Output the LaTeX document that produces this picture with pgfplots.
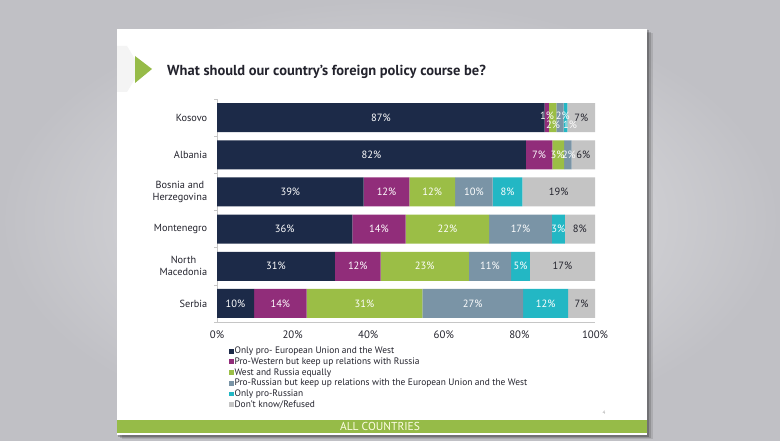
\documentclass[border=0pt]{standalone}
\usepackage{pgfplots}
\usepackage{pgfplotstable}
\pgfplotsset{compat=1.18}
\usepackage{fontspec}
\setmainfont{PT Sans}
\definecolor{cnavy}{RGB}{28,42,72}
\definecolor{cpurple}{RGB}{145,45,122}
\definecolor{cgreen}{RGB}{155,190,70}
\definecolor{cgblue}{RGB}{122,148,166}
\definecolor{cteal}{RGB}{35,183,196}
\definecolor{clgray}{RGB}{196,196,196}
\definecolor{ctxt}{RGB}{35,35,45}
\definecolor{cfoot}{RGB}{150,187,72}
\definecolor{bgin}{RGB}{232,232,234}
\definecolor{bgout}{RGB}{192,192,197}
\newcommand{\pc}{\%}

% columns: y (row), w (segment width), c (label x), cy (label y), lbl
\pgfplotstableread{
y w c cy lbl
5 86.7 43.35 5 {87\pc}
4 81.7 40.85 4 {82\pc}
3 38.8 19.4 3 {39\pc}
2 35.8 17.9 2 {36\pc}
1 31.2 15.6 1 {31\pc}
0 9.8 4.9 0 {10\pc}
}\tA
\pgfplotstableread{
y w c cy lbl
5 1.1 87.3 5.05 {1\pc}
4 7.0 85.2 4 {7\pc}
3 12.1 44.85 3 {12\pc}
2 14.1 42.85 2 {14\pc}
1 12.1 37.25 1 {12\pc}
0 13.9 16.75 0 {14\pc}
}\tB
\pgfplotstableread{
y w c cy lbl
5 2.0 88.9 4.8 {2\pc}
4 3.1 90.1 4 {3\pc}
3 12.1 56.95 3 {12\pc}
2 22.1 60.95 2 {22\pc}
1 23.3 54.95 1 {23\pc}
0 30.6 39.0 0 {31\pc}
}\tC
\pgfplotstableread{
y w c cy lbl
5 1.9 91.5 5.05 {2\pc}
4 2.0 93.1 4 {2\pc}
3 9.9 67.95 3 {10\pc}
2 16.6 80.3 2 {17\pc}
1 11.2 72.2 1 {11\pc}
0 26.7 67.65 0 {27\pc}
}\tD
\pgfplotstableread{
y w c cy lbl
5 1.0 93.4 4.8 {1\pc}
4 0 93.8 4 {}
3 7.9 76.85 3 {8\pc}
2 3.4 90.3 2 {3\pc}
1 5.0 80.3 1 {5\pc}
0 11.9 86.95 0 {12\pc}
}\tE
\pgfplotstableread{
y w c cy lbl
5 7.3 96.35 5 {7\pc}
4 6.2 96.9 4 {6\pc}
3 19.2 90.4 3 {19\pc}
2 8.0 96.0 2 {8\pc}
1 17.2 91.4 1 {17\pc}
0 7.1 96.45 0 {7\pc}
}\tF

\pgfplotsset{frame/.style={
  at={(217pt,118pt)}, anchor=south west,
  scale only axis, width=378pt, height=223pt,
  xmin=0, xmax=100, ymin=-0.5, ymax=5.5}}

\begin{document}
\begin{tikzpicture}[x=1pt,y=1pt]
% background
\shade[inner color=bgin, outer color=bgout] (0,0) rectangle (780,440);
% slide shadow
\fill[black, opacity=0.10] (122,1) rectangle (653,407);
\fill[black, opacity=0.15] (120,2) rectangle (651,408);
\fill[black, opacity=0.22] (118,3.5) rectangle (649,409.5);
% slide
\fill[white] (117,5) rectangle (647,410.5);
\fill[gray!9] (117,394) -- (127,394) -- (141,371) -- (127,348) -- (117,348) -- cycle;
% green triangle
\fill[cfoot] (135,384) -- (152,371) -- (135,357) -- cycle;
% title
\node[anchor=base west, inner sep=0, font=\bfseries\fontsize{14.5}{16}\selectfont, text=ctxt] at (167,364) {What should our country’s foreign policy course be?};
% footer
\fill[cfoot] (117,7.5) rectangle (647,20);
\node[font=\fontsize{11.5}{13}\selectfont, text=white!90!yellow] at (380,13.5) {ALL COUNTRIES};
\node[font=\fontsize{5}{6}\selectfont, text=gray!70] at (604,27) {4};

\begin{axis}[frame,
  xbar stacked, bar width=29pt,
  axis x line*=bottom, axis y line*=left,
  axis line style={draw=gray!45, line width=0.6pt},
  xtick={0,20,40,60,80,100},
  xticklabels={0\%,20\%,40\%,60\%,80\%,100\%},
  major x tick style={draw=none},
  ytick={0,1,2,3,4,5},
  yticklabels={Serbia,{North\\Macedonia},Montenegro,{Bosnia and\\Herzegovina},Albania,Kosovo},
  major y tick style={draw=none},
  minor ytick={-0.5,0.5,1.5,2.5,3.5,4.5,5.5},
  minor tick length=3pt, tick align=outside,
  minor y tick style={draw=gray!45, line width=0.5pt},
  yticklabel style={align=center, font=\fontsize{10.3}{11.8}\selectfont, text=ctxt, xshift=-2pt},
  xticklabel style={font=\fontsize{10.8}{12}\selectfont, text=ctxt, yshift=-1pt},
  legend image code/.code={\fill[#1] (0pt,-2.4pt) rectangle (4.8pt,2.4pt);},
  legend style={at={(0.0317,-0.108)}, anchor=north west, draw=none, fill=none,
     font=\fontsize{9.4}{10}\selectfont, text=ctxt, inner sep=0pt, row sep=0.9pt,
     nodes={inner sep=0.6pt, text height=6.8pt, text depth=1.8pt}},
  legend cell align=left,
]
\addplot[fill=cnavy, draw=none] table[x=w,y=y] {\tA};
\addplot[fill=cpurple, draw=none] table[x=w,y=y] {\tB};
\addplot[fill=cgreen, draw=none] table[x=w,y=y] {\tC};
\addplot[fill=cgblue, draw=none] table[x=w,y=y] {\tD};
\addplot[fill=cteal, draw=none] table[x=w,y=y] {\tE};
\addplot[fill=clgray, draw=none] table[x=w,y=y] {\tF};
\legend{Only pro- European Union and the West,
Pro-Western but keep up relations with Russia,
West and Russia equally,
Pro-Russian but keep up relations with the European Union and the West,
Only pro-Russian,
Don't know/Refused}
\end{axis}

% value labels, centred in each segment
\begin{axis}[frame, hide axis,
  point meta=explicit symbolic,
  nodes near coords,
  nodes near coords style={font=\fontsize{10.5}{12}\selectfont, anchor=center, inner sep=0.5pt},
]
\addplot[draw=none, mark=none, nodes near coords style={text=white}] table[x=c,y=cy,meta=lbl] {\tA};
\addplot[draw=none, mark=none, nodes near coords style={text=white}] table[x=c,y=cy,meta=lbl] {\tB};
\addplot[draw=none, mark=none, nodes near coords style={text=white}] table[x=c,y=cy,meta=lbl] {\tC};
\addplot[draw=none, mark=none, nodes near coords style={text=white}] table[x=c,y=cy,meta=lbl] {\tD};
\addplot[draw=none, mark=none, nodes near coords style={text=white}] table[x=c,y=cy,meta=lbl] {\tE};
\addplot[draw=none, mark=none, nodes near coords style={text=ctxt}] table[x=c,y=cy,meta=lbl] {\tF};
\end{axis}
\pgfresetboundingbox
\useasboundingbox (0,0) rectangle (780,440);
\end{tikzpicture}
\end{document}
